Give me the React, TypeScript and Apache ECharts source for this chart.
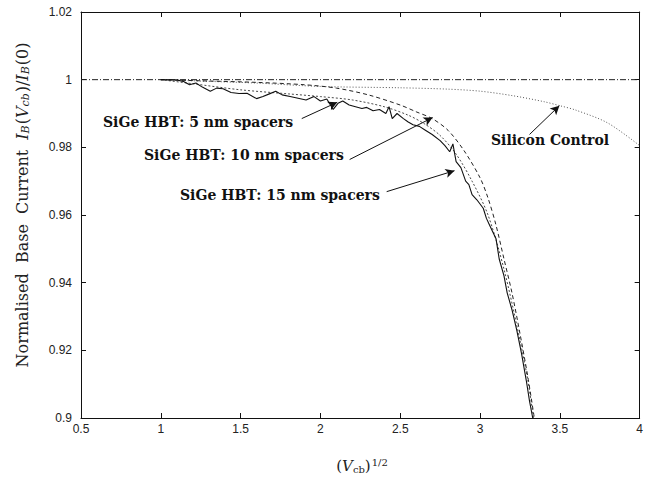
import { useEffect, useRef } from 'react';
import * as echarts from 'echarts';

// ---- axis ticks ----
const xTickLabels = ['0.5', '1', '1.5', '2', '2.5', '3', '3.5', '4'];
const yTickLabels = ['0.9', '0.92', '0.94', '0.96', '0.98', '1', '1.02'];

// ---- reference line (dash-dot at 1) ----
const refX = [0.5, 4.0];
const refY = [1.0, 1.0];

// ---- SiGe HBT: 5 nm spacers (solid, noisy) ----
const x5 = [1.0, 1.1, 1.14, 1.18, 1.22, 1.26, 1.31, 1.35, 1.39, 1.44, 1.49, 1.54, 1.6, 1.64, 1.68, 1.72, 1.76, 1.81, 1.86, 1.91, 1.96, 2.0, 2.04, 2.08, 2.11, 2.14, 2.18, 2.22, 2.26, 2.29, 2.33, 2.37, 2.41, 2.43, 2.45, 2.48, 2.52, 2.55, 2.58, 2.62, 2.66, 2.7, 2.75, 2.78, 2.81, 2.83, 2.85, 2.88, 2.91, 2.93, 2.95, 2.98, 3.02, 3.04, 3.06, 3.08, 3.1, 3.12, 3.15, 3.17, 3.2, 3.23, 3.26, 3.29, 3.31, 3.33];
const y5 = [1.0, 0.9999, 0.9995, 0.9985, 0.999, 0.9978, 0.9966, 0.9975, 0.9973, 0.9962, 0.9959, 0.996, 0.9944, 0.995, 0.9958, 0.9966, 0.9955, 0.995, 0.9945, 0.994, 0.995, 0.9937, 0.9943, 0.9912, 0.993, 0.9937, 0.9925, 0.992, 0.9915, 0.9918, 0.9908, 0.9912, 0.99, 0.992, 0.9885, 0.99, 0.9885, 0.9875, 0.9867, 0.9862, 0.985, 0.9838, 0.982, 0.9805, 0.9787, 0.981, 0.9758, 0.974, 0.97, 0.969, 0.966, 0.9645, 0.962, 0.959, 0.957, 0.955, 0.953, 0.947, 0.942, 0.937, 0.932, 0.926, 0.919, 0.911, 0.905, 0.9];

// ---- SiGe HBT: 10 nm spacers (dashed) ----
const x10 = [1.0, 1.3, 1.6, 1.9, 2.1, 2.3, 2.5, 2.6, 2.7, 2.8, 2.9, 3.0, 3.05, 3.1, 3.15, 3.2, 3.25, 3.3, 3.34];
const y10 = [1.0, 0.9996, 0.9992, 0.9985, 0.9975, 0.9955, 0.9925, 0.9905, 0.9885, 0.985, 0.979, 0.971, 0.965, 0.957, 0.947, 0.937, 0.925, 0.912, 0.9];

// ---- SiGe HBT: 15 nm spacers (fine) ----
const x15 = [1.0, 1.2, 1.5, 1.8, 2.0, 2.2, 2.4, 2.55, 2.65, 2.75, 2.85, 2.95, 3.05, 3.15, 3.25, 3.3, 3.335];
const y15 = [1.0, 0.9988, 0.997, 0.9958, 0.995, 0.994, 0.992, 0.9895, 0.987, 0.9835, 0.978, 0.97, 0.96, 0.944, 0.923, 0.911, 0.9];

// ---- Silicon Control (dotted) ----
const xSi = [1.0, 1.3, 1.6, 2.0, 2.5, 2.8, 3.0, 3.2, 3.4, 3.5, 3.6, 3.8, 4.0];
const ySi = [1.0, 0.9995, 0.999, 0.998, 0.9976, 0.9972, 0.9966, 0.9953, 0.9935, 0.9923, 0.991, 0.9872, 0.9805];

// ---- annotations ----
const annLabels = ['SiGe HBT: 5 nm spacers', 'SiGe HBT: 10 nm spacers', 'SiGe HBT: 15 nm spacers', 'Silicon Control'];
const annTail = [[1.883, 0.9885], [2.183, 0.9764], [2.415, 0.9669], [3.31, 0.9838]];
const annTip = [[2.105, 0.9933], [2.703, 0.9888], [2.84, 0.9731], [3.497, 0.9923]];
const annPos = [[103, 122], [144, 155], [180, 195], [491, 140]];

const zip = (xs: number[], ys: number[]) => xs.map((x, i) => [x, ys[i]]);

const fmt = (v: number) => String(parseFloat(v.toFixed(2)));

export default function App() {
  const ref = useRef<HTMLDivElement>(null);
  useEffect(() => {
    const chart = echarts.init(ref.current!, null, { renderer: 'svg' });
    const axisLine = { show: true, lineStyle: { color: '#111', width: 1 } };
    const tickStyle = { show: true, inside: true, length: 5, lineStyle: { color: '#111', width: 1 } };
    const serif = 'DejaVu Serif';
    const option: any = {
      animation: false,
      backgroundColor: '#fff',
      grid: { left: 81, right: 5, top: 12, bottom: 60, containLabel: false },
      xAxis: [
        {
          type: 'value', min: 0.5, max: 4, interval: 0.5,
          axisLine, axisTick: tickStyle, splitLine: { show: false },
          axisLabel: {
            color: '#222', fontFamily: 'Liberation Sans', fontSize: 12, margin: 5,
            formatter: (v: number) => xTickLabels[Math.round((v - 0.5) / 0.5)] ?? fmt(v),
          },
        },
        {
          type: 'value', min: 0.5, max: 4, interval: 0.5, position: 'top',
          axisLine, axisTick: tickStyle, axisLabel: { show: false }, splitLine: { show: false },
        },
      ],
      yAxis: [
        {
          type: 'value', min: 0.9, max: 1.02, interval: 0.02,
          axisLine, axisTick: tickStyle, splitLine: { show: false },
          axisLabel: {
            color: '#222', fontFamily: 'Liberation Sans', fontSize: 12, margin: 9,
            formatter: (v: number) => yTickLabels[Math.round((v - 0.9) / 0.02)] ?? fmt(v),
          },
        },
        {
          type: 'value', min: 0.9, max: 1.02, interval: 0.02, position: 'right',
          axisLine, axisTick: tickStyle, axisLabel: { show: false }, splitLine: { show: false },
        },
      ],
      series: [
        {
          type: 'line', data: zip(refX, refY), showSymbol: false, symbol: 'none',
          lineStyle: { color: '#222', width: 1, type: [6, 2, 1, 2] },
          markLine: {
            silent: true, symbol: ['none', 'arrow'], symbolSize: [7, 9],
            lineStyle: { color: '#111', width: 1, type: 'solid' },
            label: { show: false },
            data: annTail.map((t, i) => [{ coord: t }, { coord: annTip[i] }]),
          },
        },
        {
          type: 'line', data: zip(xSi, ySi), showSymbol: false, symbol: 'none', smooth: 0.3,
          lineStyle: { color: '#555', width: 1, type: [1, 2] },
        },
        {
          type: 'line', data: zip(x15, y15), showSymbol: false, symbol: 'none', smooth: 0.3,
          lineStyle: { color: '#333', width: 0.9, type: [2, 2] },
        },
        {
          type: 'line', data: zip(x10, y10), showSymbol: false, symbol: 'none', smooth: 0.3,
          lineStyle: { color: '#222', width: 1, type: [4, 3] },
        },
        {
          type: 'line', data: zip(x5, y5), showSymbol: false, symbol: 'none',
          lineStyle: { color: '#111', width: 1.1 },
        },
      ],
      graphic: [
        ...annLabels.map((t, i) => ({
          type: 'text', x: annPos[i][0], y: annPos[i][1],
          style: {
            text: t, fill: '#111', font: 'bold 14px "DejaVu Serif"',
            verticalAlign: 'middle',
          },
        })),
        {
          type: 'text', x: 22, y: 205, rotation: Math.PI / 2,
          style: {
            text: 'Normalised  Base  Current  {i|I}{s|B}{t|(}{i|V}{s|cb}{t|)/}{i|I}{s|B}{t|(0)}',
            fill: '#222', font: '16px "DejaVu Serif"', align: 'center', verticalAlign: 'middle',
            rich: {
              t: { fontFamily: serif, fontSize: 16, fill: '#222' },
              i: { fontStyle: 'italic', fontFamily: serif, fontSize: 16, fill: '#222' },
              s: { fontStyle: 'italic', fontFamily: serif, fontSize: 11, fill: '#222', verticalAlign: 'bottom', padding: [7, 1, 0, 0] },
            },
          },
        },
        {
          type: 'text', x: 362, y: 466,
          style: {
            text: '{t|(}{i|V}{s|cb}{t|)}{p|1/2}',
            fill: '#222', font: '15px "DejaVu Serif"', align: 'center', verticalAlign: 'middle',
            rich: {
              t: { fontFamily: serif, fontSize: 15, fill: '#222' },
              i: { fontStyle: 'italic', fontFamily: serif, fontSize: 15, fill: '#222' },
              s: { fontFamily: serif, fontSize: 10, fill: '#222', verticalAlign: 'bottom', padding: [7, 0, 0, 0] },
              p: { fontFamily: serif, fontSize: 10, fill: '#222', verticalAlign: 'top', padding: [0, 0, 7, 1] },
            },
          },
        },
      ],
    };
    chart.setOption(option);
    return () => chart.dispose();
  }, []);
  return <div ref={ref} style={{ position: 'fixed', left: 0, top: 0, width: 646, height: 478 }} />;
}
